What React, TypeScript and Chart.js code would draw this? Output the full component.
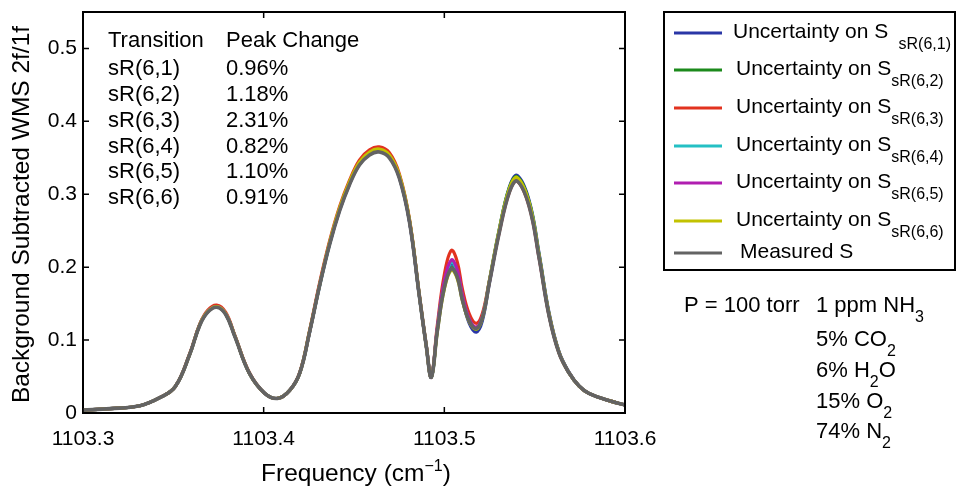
import React, { useEffect, useRef } from "react";
import { Chart, registerables } from "chart.js";

Chart.register(...registerables);

const FONT = "'Liberation Sans', Arial, Helvetica, sans-serif";

// Frequency axis (cm^-1)
const freq = [
  1103.3, 1103.315, 1103.3315, 1103.3425, 1103.351, 1103.359, 1103.3646, 1103.369, 1103.374, 1103.379,
  1103.384, 1103.392, 1103.4006, 1103.4077, 1103.4144, 1103.42, 1103.4254, 1103.431, 1103.4365, 1103.442,
  1103.4475, 1103.453, 1103.4586, 1103.464, 1103.4696, 1103.4751, 1103.4807, 1103.4862, 1103.49, 1103.4928,
  1103.4961, 1103.5, 1103.5039, 1103.5072, 1103.51, 1103.5138, 1103.5177, 1103.521, 1103.5249, 1103.5304,
  1103.536, 1103.5403, 1103.547, 1103.5525, 1103.558, 1103.5635, 1103.569, 1103.5746, 1103.58, 1103.5912,
  1103.6,
];

const sR61 = [
  0.004, 0.006, 0.010, 0.021, 0.036, 0.080, 0.121, 0.139, 0.146, 0.136,
  0.106, 0.055, 0.027, 0.020, 0.031, 0.055, 0.111, 0.175, 0.232, 0.278,
  0.314, 0.341, 0.355, 0.359, 0.351, 0.323, 0.263, 0.160, 0.092, 0.049,
  0.114, 0.177, 0.205, 0.191, 0.157, 0.123, 0.111, 0.126, 0.178, 0.251,
  0.310, 0.326, 0.291, 0.218, 0.137, 0.084, 0.056, 0.037, 0.027, 0.017,
  0.011,
];
const sR62 = [
  0.004, 0.006, 0.010, 0.021, 0.036, 0.080, 0.121, 0.139, 0.146, 0.136,
  0.106, 0.055, 0.027, 0.020, 0.031, 0.055, 0.111, 0.176, 0.233, 0.279,
  0.316, 0.343, 0.357, 0.361, 0.353, 0.325, 0.264, 0.160, 0.092, 0.049,
  0.113, 0.173, 0.199, 0.187, 0.156, 0.126, 0.115, 0.130, 0.181, 0.252,
  0.309, 0.324, 0.289, 0.216, 0.135, 0.083, 0.055, 0.037, 0.027, 0.017,
  0.011,
];
const sR63 = [
  0.004, 0.006, 0.010, 0.021, 0.036, 0.081, 0.122, 0.141, 0.148, 0.138,
  0.107, 0.056, 0.027, 0.020, 0.031, 0.056, 0.113, 0.179, 0.236, 0.283,
  0.319, 0.347, 0.361, 0.365, 0.357, 0.328, 0.266, 0.162, 0.093, 0.050,
  0.120, 0.190, 0.223, 0.207, 0.170, 0.136, 0.123, 0.136, 0.181, 0.248,
  0.303, 0.318, 0.283, 0.212, 0.133, 0.082, 0.055, 0.037, 0.027, 0.017,
  0.011,
];
const sR64 = [
  0.004, 0.006, 0.010, 0.021, 0.036, 0.080, 0.121, 0.139, 0.146, 0.136,
  0.106, 0.055, 0.027, 0.020, 0.031, 0.055, 0.111, 0.175, 0.232, 0.279,
  0.315, 0.342, 0.356, 0.360, 0.352, 0.324, 0.263, 0.160, 0.092, 0.049,
  0.115, 0.179, 0.207, 0.193, 0.160, 0.128, 0.117, 0.131, 0.180, 0.250,
  0.307, 0.322, 0.287, 0.214, 0.134, 0.083, 0.055, 0.037, 0.027, 0.017,
  0.011,
];
const sR65 = [
  0.004, 0.006, 0.010, 0.021, 0.036, 0.080, 0.121, 0.139, 0.146, 0.136,
  0.106, 0.055, 0.027, 0.020, 0.031, 0.055, 0.111, 0.176, 0.233, 0.279,
  0.315, 0.342, 0.356, 0.360, 0.352, 0.324, 0.263, 0.160, 0.092, 0.049,
  0.116, 0.181, 0.210, 0.196, 0.162, 0.129, 0.118, 0.132, 0.179, 0.249,
  0.305, 0.320, 0.285, 0.213, 0.134, 0.083, 0.055, 0.037, 0.027, 0.017,
  0.011,
];
const sR66 = [
  0.004, 0.006, 0.010, 0.021, 0.036, 0.080, 0.121, 0.139, 0.146, 0.136,
  0.106, 0.055, 0.027, 0.020, 0.031, 0.055, 0.112, 0.176, 0.234, 0.281,
  0.317, 0.344, 0.358, 0.362, 0.354, 0.326, 0.265, 0.161, 0.092, 0.049,
  0.111, 0.170, 0.196, 0.184, 0.154, 0.125, 0.115, 0.130, 0.180, 0.251,
  0.308, 0.323, 0.288, 0.215, 0.135, 0.083, 0.055, 0.037, 0.027, 0.017,
  0.011,
];
const measured = [
  0.004, 0.006, 0.010, 0.021, 0.036, 0.080, 0.120, 0.138, 0.145, 0.135,
  0.105, 0.055, 0.027, 0.020, 0.031, 0.055, 0.111, 0.175, 0.231, 0.277,
  0.313, 0.340, 0.354, 0.358, 0.350, 0.322, 0.262, 0.160, 0.092, 0.049,
  0.112, 0.172, 0.198, 0.186, 0.155, 0.126, 0.116, 0.130, 0.178, 0.247,
  0.303, 0.318, 0.283, 0.212, 0.133, 0.082, 0.055, 0.037, 0.027, 0.017,
  0.011,
];

const seriesValues = [sR61, sR62, sR63, sR64, sR65, sR66, measured];
const seriesSubs = ["sR(6,1)", "sR(6,2)", "sR(6,3)", "sR(6,4)", "sR(6,5)", "sR(6,6)", ""];
const seriesColors = ["#2a36a6", "#1c8a1c", "#e2321f", "#24c0c4", "#b01eb0", "#c2c200", "#636363"];
const seriesOrder = [6, 5, 4, 3, 2, 1, 0];

const xTicks = [1103.3, 1103.4, 1103.5, 1103.6];
const yTicks = [0, 0.1, 0.2, 0.3, 0.4, 0.5];

const transitions = ["sR(6,1)", "sR(6,2)", "sR(6,3)", "sR(6,4)", "sR(6,5)", "sR(6,6)"];
const peakChanges = ["0.96%", "1.18%", "2.31%", "0.82%", "1.10%", "0.91%"];

type Run = [string, number, number]; // text, size, baseline offset

function drawRuns(ctx: CanvasRenderingContext2D, x: number, y: number, runs: Run[]) {
  let cx = x;
  for (const [t, size, dy] of runs) {
    ctx.font = `${size}px ${FONT}`;
    ctx.fillText(t, cx, y + dy);
    cx += ctx.measureText(t).width;
  }
  return cx;
}
function runsWidth(ctx: CanvasRenderingContext2D, runs: Run[]) {
  let w = 0;
  for (const [t, size] of runs) {
    ctx.font = `${size}px ${FONT}`;
    w += ctx.measureText(t).width;
  }
  return w;
}

const decor = {
  id: "decor",
  afterDraw(chart: any) {
    const { ctx, chartArea: a, scales } = chart;
    const xs = scales.x;
    const ys = scales.y;
    ctx.save();
    ctx.strokeStyle = "#000";
    ctx.fillStyle = "#000";
    ctx.lineWidth = 2;
    ctx.beginPath();
    ctx.moveTo(a.left, a.top);
    ctx.lineTo(a.right, a.top);
    ctx.lineTo(a.right, a.bottom);
    ctx.stroke();

    ctx.lineWidth = 1.5;
    ctx.beginPath();
    for (const v of xTicks) {
      const px = xs.getPixelForValue(v);
      ctx.moveTo(px, a.bottom);
      ctx.lineTo(px, a.bottom - 6);
      ctx.moveTo(px, a.top);
      ctx.lineTo(px, a.top + 6);
    }
    for (const v of yTicks) {
      const py = ys.getPixelForValue(v);
      ctx.moveTo(a.left, py);
      ctx.lineTo(a.left + 6, py);
      ctx.moveTo(a.right, py);
      ctx.lineTo(a.right - 6, py);
    }
    ctx.stroke();

    // Table inside the plot
    ctx.textAlign = "left";
    ctx.textBaseline = "alphabetic";
    ctx.font = `22px ${FONT}`;
    const rowBase = [47, 75, 101, 127, 153, 178, 204];
    ctx.fillText("Transition", 108, rowBase[0]);
    ctx.fillText("Peak Change", 226, rowBase[0]);
    transitions.forEach((t, i) => {
      ctx.fillText(t, 108, rowBase[i + 1]);
      ctx.fillText(peakChanges[i], 226, rowBase[i + 1]);
    });

    // Legend box
    ctx.lineWidth = 2;
    ctx.strokeRect(664, 12, 291, 258);
    const lineY = [33, 70, 108, 146, 183, 221, 253];
    seriesColors.forEach((c, i) => {
      ctx.strokeStyle = c;
      ctx.lineWidth = 3;
      ctx.beginPath();
      ctx.moveTo(674, lineY[i]);
      ctx.lineTo(722, lineY[i]);
      ctx.stroke();
      ctx.fillStyle = "#000";
      const base = lineY[i] + 5;
      if (seriesSubs[i]) {
        const tx = i === 0 ? 733 : 736;
        const main = i === 0 ? "Uncertainty on S " : "Uncertainty on S";
        const sub = i === 0 ? " " + seriesSubs[i] : seriesSubs[i];
        drawRuns(ctx, tx, base, [[main, 21, 0], [sub, 16, 11]]);
      } else {
        drawRuns(ctx, 740, base, [["Measured S", 21, 0]]);
      }
    });

    // Gas mixture text
    ctx.fillStyle = "#000";
    drawRuns(ctx, 684, 312, [["P = 100 torr", 22, 0]]);
    drawRuns(ctx, 816, 312, [["1 ppm NH", 22, 0], ["3", 16, 10]]);
    drawRuns(ctx, 816, 346, [["5% CO", 22, 0], ["2", 16, 10]]);
    drawRuns(ctx, 816, 377, [["6% H", 22, 0], ["2", 16, 10], ["O", 22, 0]]);
    drawRuns(ctx, 816, 408, [["15% O", 22, 0], ["2", 16, 10]]);
    drawRuns(ctx, 816, 438, [["74% N", 22, 0], ["2", 16, 10]]);

    // X title
    const xt: Run[] = [["Frequency (cm", 24.5, 0], ["\u22121", 16, -10], [")", 24.5, 0]];
    const cx = (a.left + a.right) / 2 + 2;
    drawRuns(ctx, cx - runsWidth(ctx, xt) / 2, 481, xt);

    // Y title
    ctx.save();
    ctx.translate(29, (a.top + a.bottom) / 2 + 2);
    ctx.rotate(-Math.PI / 2);
    ctx.font = `24.5px ${FONT}`;
    ctx.textAlign = "center";
    ctx.fillText("Background Subtracted WMS 2f/1f", 0, 0);
    ctx.restore();

    ctx.restore();
  },
};

export default function App() {
  const ref = useRef<HTMLCanvasElement>(null);
  useEffect(() => {
    document.body.style.margin = "0";
    Chart.defaults.font.family = FONT;
    const datasets = seriesValues.map((vals, i) => ({
      label: seriesSubs[i] ? "Uncertainty on S " + seriesSubs[i] : "Measured S",
      data: vals.map((v, j) => ({ x: freq[j], y: v })),
      borderColor: seriesColors[i],
      backgroundColor: seriesColors[i],
      borderWidth: i === 6 ? 3.6 : 3.2,
      pointRadius: 0,
      fill: false,
      tension: 0.4,
      order: seriesOrder[i],
    }));
    const chart = new Chart(ref.current!, {
      type: "line",
      data: { datasets },
      options: {
        animation: false,
        responsive: false,
        events: [],
        layout: { padding: { left: 0, right: 332, top: 12, bottom: 0 } },
        plugins: { legend: { display: false }, tooltip: { enabled: false } },
        scales: {
          x: {
            type: "linear",
            min: 1103.3,
            max: 1103.6,
            afterBuildTicks: (s: any) => {
              s.ticks = xTicks.map((v) => ({ value: v }));
            },
            afterFit: (s: any) => {
              s.height = 73;
              s.paddingLeft = 0;
              s.paddingRight = 0;
            },
            ticks: {
              callback: (v: any) => Number(v).toFixed(1),
              font: { size: 21, family: FONT },
              color: "#000",
              padding: 14,
              maxRotation: 0,
              autoSkip: false,
            },
            grid: { drawOnChartArea: false, drawTicks: false },
            border: { color: "#000", width: 2 },
          },
          y: {
            type: "linear",
            min: 0,
            max: 0.55,
            afterBuildTicks: (s: any) => {
              s.ticks = yTicks.map((v) => ({ value: v }));
            },
            afterFit: (s: any) => {
              s.width = 83;
              s.paddingTop = 0;
              s.paddingBottom = 0;
            },
            ticks: {
              callback: (v: any) => (Number(v) === 0 ? "0" : Number(v).toFixed(1)),
              font: { size: 21, family: FONT },
              color: "#000",
              padding: 6,
            },
            grid: { drawOnChartArea: false, drawTicks: false },
            border: { color: "#000", width: 2 },
          },
        },
      },
      plugins: [decor],
    });
    return () => chart.destroy();
  }, []);
  return (
    <div style={{ position: "relative", width: 957, height: 486 }}>
      <canvas ref={ref} width={957} height={486} style={{ display: "block" }} />
    </div>
  );
}
